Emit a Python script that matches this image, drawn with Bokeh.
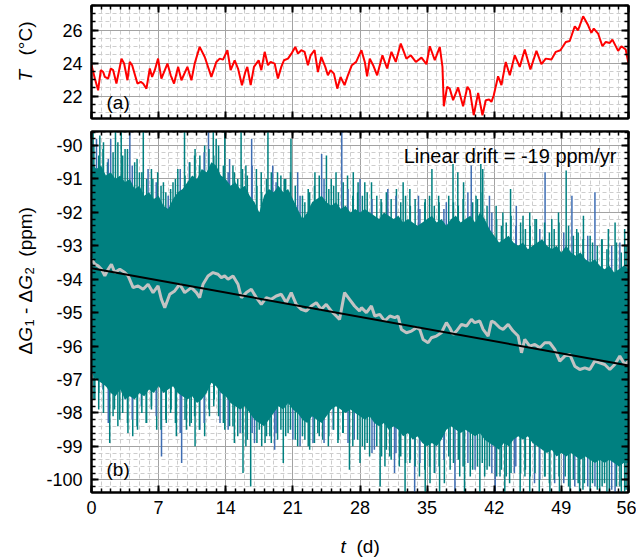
import numpy as np
from math import pi
from bokeh.plotting import figure
from bokeh.models import Range1d, FixedTicker, LinearAxis, Label
from bokeh.layouts import column, row
from bokeh.embed import file_html
from bokeh.resources import INLINE

FONT = "Liberation Sans"

# ---------------- data ----------------
day_ticks = [0, 7, 14, 21, 28, 35, 42, 49, 56]
day_minor = list(range(0, 57))
temp_ticks = [22, 24, 26]
temp_minor = [20.5 + 0.5 * i for i in range(15)]
g_ticks = [-100, -99, -98, -97, -96, -95, -94, -93, -92, -91, -90]
g_minor = [round(-100.4 + 0.2 * i, 1) for i in range(55)]

# (a) temperature
temp_t = [0.00, 0.35, 0.69, 0.97, 1.22, 1.39, 1.74, 2.01, 2.26, 2.60, 3.13, 3.40, 3.75, 3.99, 4.24,
          4.79, 5.14, 5.38, 5.73, 6.08, 6.32, 6.60, 6.94, 7.29, 7.92, 8.26, 8.61, 9.03, 9.38, 10.00,
          10.42, 10.76, 11.28, 11.81, 12.50, 13.02, 13.37, 13.72, 14.17, 14.51, 14.93, 15.28, 15.69,
          16.04, 16.25, 16.60, 16.94, 17.43, 17.71, 18.06, 18.40, 18.68, 19.10, 19.44, 19.79, 20.07,
          20.49, 20.90, 21.25, 21.53, 21.88, 22.22, 22.57, 22.85, 23.26, 23.61, 23.96, 24.38, 24.65,
          24.93, 25.28, 25.63, 25.97, 26.39, 26.74, 27.15, 27.60, 28.15, 28.50, 28.74, 29.02, 29.37,
          29.79, 30.34, 30.83, 31.28, 31.73, 32.25, 32.84, 33.30, 33.82, 34.06, 34.41, 34.93, 35.28,
          35.80, 36.32, 36.60, 36.74, 37.08, 37.36, 37.71, 38.23, 38.75, 39.20, 39.45, 39.86, 40.32,
          40.77, 41.12, 41.46, 41.71, 41.95, 42.40, 42.75, 43.20, 43.62, 44.14, 44.66, 45.18, 45.77,
          46.40, 46.92, 47.37, 47.96, 48.42, 48.90, 49.46, 49.87, 50.40, 50.74, 51.27, 51.79, 52.13,
          52.38, 52.83, 53.28, 53.63, 54.05, 54.32, 54.92, 55.26, 55.71, 56.00]
temp_v = [23.88, 23.07, 22.36, 23.58, 23.47, 23.17, 23.07, 23.68, 23.58, 22.77, 24.28, 23.98, 22.97,
          24.08, 23.88, 22.77, 22.87, 22.77, 22.46, 23.68, 23.17, 23.58, 24.28, 23.07, 23.98, 23.27,
          22.77, 23.78, 22.97, 23.78, 22.97, 23.98, 24.99, 24.38, 23.17, 24.08, 24.28, 24.22, 24.79,
          23.58, 24.18, 23.68, 22.67, 23.47, 23.78, 22.67, 23.78, 24.18, 23.58, 24.69, 23.88, 24.08,
          23.98, 23.07, 23.78, 24.18, 24.28, 24.63, 24.99, 24.59, 24.79, 24.69, 23.88, 24.48, 24.79,
          23.47, 24.38, 23.78, 23.27, 23.58, 23.37, 22.46, 23.17, 22.67, 23.27, 23.88, 24.08, 24.79,
          24.08, 23.21, 24.28, 23.88, 23.27, 24.48, 23.68, 24.69, 24.08, 25.19, 24.28, 24.48, 24.08,
          24.18, 24.34, 23.94, 25.03, 24.18, 24.99, 23.78, 21.39, 22.57, 22.46, 21.76, 22.53, 21.39,
          22.57, 22.36, 20.85, 22.20, 20.85, 21.76, 21.80, 21.66, 22.06, 23.21, 22.67, 24.08, 23.27,
          24.48, 23.78, 24.83, 23.62, 24.75, 23.94, 24.28, 24.22, 24.69, 24.79, 25.29, 25.35, 26.24,
          26.00, 26.85, 26.30, 25.84, 26.10, 25.80, 25.03, 25.29, 25.23, 25.43, 24.75, 25.03, 24.83,
          23.98]

# (b) raw difference: dense band envelope (every half day) and single excursions
band_t = [0.5 * i for i in range(113)]
band_top = [-90.5, -90.7, -90.6, -90.9, -90.8, -91.0, -90.9, -91.1, -91.0, -91.3, -91.2, -91.5,
            -91.4, -91.6, -91.5, -91.8, -91.9, -91.6, -91.4, -91.3, -91.1, -90.9, -91.0, -90.7,
            -90.8, -90.5, -90.6, -90.9, -91.0, -91.2, -91.1, -91.3, -91.2, -91.5, -91.7, -92.0,
            -91.5, -91.3, -91.4, -91.2, -91.4, -91.3, -91.6, -91.9, -92.2, -92.0, -91.7, -91.6,
            -91.5, -91.7, -91.8, -91.7, -91.9, -91.8, -92.0, -91.9, -92.0, -91.9, -92.0, -92.1,
            -92.2, -92.0, -92.1, -92.2, -92.1, -92.3, -92.2, -92.3, -92.4, -92.3, -92.2, -92.1,
            -92.3, -92.2, -92.4, -92.2, -92.1, -92.3, -92.2, -92.1, -92.3, -92.0, -92.2, -92.5,
            -92.7, -92.9, -92.8, -92.7, -92.9, -93.0, -92.9, -93.1, -93.0, -92.9, -92.8, -93.0,
            -93.1, -93.0, -93.2, -93.0, -93.2, -93.3, -93.2, -93.4, -93.5, -93.4, -93.6, -93.7,
            -93.6, -93.8, -93.7, -93.6, -93.7]
band_bot = [-96.8, -97.0, -97.1, -97.2, -97.4, -97.5, -97.3, -97.6, -97.5, -97.6, -97.4, -97.5,
            -97.3, -97.4, -97.2, -97.4, -97.3, -97.2, -97.4, -97.5, -97.6, -97.5, -97.7, -97.6,
            -97.4, -97.1, -97.2, -97.4, -97.5, -97.7, -97.8, -97.9, -97.8, -98.0, -98.2, -98.3,
            -98.4, -98.2, -98.0, -97.8, -97.9, -97.7, -97.9, -98.0, -98.2, -98.3, -98.1, -98.2,
            -98.3, -98.1, -97.9, -97.8, -97.9, -98.0, -97.9, -98.0, -98.1, -98.2, -98.1, -98.3,
            -98.4, -98.3, -98.5, -98.4, -98.5, -98.7, -98.6, -98.8, -98.7, -98.9, -99.0, -98.9,
            -99.0, -98.8, -98.5, -98.4, -98.5, -98.6, -98.5, -98.6, -98.7, -98.6, -98.8, -98.9,
            -99.0, -99.1, -98.9, -99.0, -98.8, -98.7, -98.8, -98.7, -98.9, -99.0, -99.1, -99.2,
            -99.1, -99.3, -99.2, -99.3, -99.2, -99.3, -99.4, -99.3, -99.4, -99.5, -99.4, -99.5,
            -99.4, -99.5, -99.6, -99.5, -99.5]

# tall single excursions above / below the band
up_t = [0.17, 0.52, 0.87, 1.2, 1.67, 2.0, 2.5, 3.1, 3.5, 4.0, 4.5, 5.0, 5.4, 5.9, 6.4, 6.9, 7.5,
        8.0, 8.5, 9.0, 9.7, 10.2, 10.8, 11.3, 11.8, 12.2, 12.7, 13.0, 13.9, 14.4, 14.9, 15.6, 16.1,
        16.7, 17.2, 17.7, 18.4, 18.9, 19.4, 20.1, 20.8, 21.5, 22.0, 22.6, 23.3, 24.0, 24.5, 25.0,
        25.5, 26.1, 26.7, 27.3, 27.8, 28.0, 28.5, 29.2, 30.2, 30.9, 31.8, 32.5, 33.2, 34.1, 34.8,
        35.5, 36.2, 37.0, 37.7, 38.2, 38.8, 39.6, 40.1, 40.6, 40.8, 41.5, 42.2, 42.9, 43.7, 44.3,
        45.0, 45.7, 46.4, 47.3, 48.0, 48.7, 49.5, 50.1, 50.6, 51.3, 52.0, 52.5, 53.2, 53.9, 54.6,
        55.1, 55.6]
up_v = [-89.4, -89.8, -89.7, -90.1, -90.5, -89.8, -89.5, -89.4, -90.1, -89.4, -90.5, -90.8, -89.4,
        -90.7, -91.0, -90.8, -91.1, -91.5, -91.1, -90.7, -89.4, -90.5, -90.1, -90.3, -90.0, -89.4,
        -89.4, -89.8, -89.4, -90.4, -90.8, -89.4, -90.6, -89.8, -90.7, -90.8, -89.4, -90.6, -90.8,
        -91.0, -89.8, -90.8, -91.5, -91.3, -90.8, -90.25, -90.3, -91.0, -90.8, -89.4, -90.9, -90.8,
        -91.1, -91.0, -91.1, -91.1, -91.6, -91.3, -91.3, -91.1, -91.3, -91.5, -91.6, -90.7, -91.5,
        -91.7, -90.55, -90.8, -91.1, -90.6, -91.5, -90.55, -90.7, -91.5, -91.8, -92.0, -91.3, -91.8,
        -92.1, -92.0, -92.2, -90.8, -92.2, -92.0, -90.75, -91.5, -92.5, -92.1, -92.7, -91.4, -92.8,
        -92.5, -92.3, -92.9, -92.5]

down_t = [0.35, 0.76, 1.2, 1.9, 2.4, 2.95, 3.5, 3.8, 4.3, 4.8, 5.2, 5.7, 6.25, 6.8, 7.3, 7.8, 8.3,
          8.85, 9.4, 9.9, 10.4, 10.8, 11.3, 11.8, 12.3, 12.8, 13.4, 13.9, 14.4, 14.9, 15.5, 15.8,
          16.1, 16.6, 17.0, 17.5, 18.1, 18.6, 19.1, 19.4, 20.0, 20.5, 21.0, 21.5, 22.0, 22.6, 23.1,
          23.6, 24.1, 24.7, 25.2, 25.7, 26.2, 26.9, 27.4, 28.0, 28.5, 29.0, 29.5, 30.1, 30.6, 31.1,
          31.6, 32.1, 32.7, 33.2, 33.7, 34.2, 34.8, 35.3, 35.8, 36.3, 36.8, 37.4, 37.9, 38.4, 38.9,
          39.5, 40.0, 40.5, 41.0, 41.5, 42.1, 42.6, 43.1, 43.6, 44.1, 44.7, 45.2, 45.7, 46.2, 46.7,
          47.3, 47.8, 48.3, 48.8, 49.4, 49.9, 50.4, 50.9, 51.4, 52.0, 52.5, 53.0, 53.5, 54.0, 54.6,
          55.1, 55.6]
down_v = [-97.6, -97.4, -97.3, -98.9, -97.9, -98.2, -97.6, -98.6, -98.7, -98.5, -97.8, -98.3, -97.8,
          -98.5, -99.3, -98.3, -97.9, -98.7, -99.5, -98.5, -98.3, -99.0, -98.5, -98.7, -98.1, -97.6,
          -98.3, -98.5, -98.4, -98.9, -98.6, -99.8, -99.0, -100.2, -98.9, -98.5, -98.9, -98.7, -99.1,
          -98.8, -99.5, -98.6, -98.8, -99.0, -98.7, -99.0, -98.9, -98.6, -98.8, -99.0, -98.5, -98.9,
          -98.6, -99.7, -98.8, -99.5, -99.1, -99.3, -99.1, -100.2, -99.6, -99.3, -99.8, -99.6,
          -100.5, -99.5, -100.5, -99.9, -100.5, -100.1, -99.8, -100.5, -100.1, -99.7, -100.5, -99.9,
          -100.5, -99.9, -99.7, -100.5, -99.9, -99.6, -100.5, -99.9, -100.5, -100.1, -99.8, -100.5,
          -99.9, -100.5, -100.1, -100.5, -99.9, -100.5, -100.1, -100.5, -99.9, -100.5, -100.2,
          -100.5, -100.1, -100.5, -100.2, -100.5, -100.1, -100.5, -100.5, -100.2, -100.5]

# medium excursions between them (every half day, at t = 0.25, 0.75, ...)
mid_t = [0.25 + 0.5 * i for i in range(112)]
mid_up_v = [-90.0, -90.3, -89.9, -90.4, -90.2, -89.9, -90.3, -90.1,
            -90.6, -90.4, -90.8, -91.0, -90.7, -91.1, -91.2, -91.4,
            -91.3, -91.0, -90.7, -90.9, -90.5, -90.3, -90.6, -90.2,
            -90.1, -90.3, -90.0, -90.6, -90.8, -90.6, -91.0, -90.7,
            -90.9, -90.6, -91.2, -91.4, -91.0, -90.8, -91.1, -90.9,
            -91.0, -90.8, -91.2, -91.5, -91.7, -91.4, -91.2, -90.9,
            -91.0, -91.3, -91.2, -91.4, -91.1, -91.3, -91.5, -91.4,
            -91.5, -91.4, -91.6, -91.5, -91.7, -91.4, -91.6, -91.5,
            -91.7, -91.5, -91.8, -91.6, -91.9, -91.7, -91.5, -91.8,
            -91.7, -91.9, -91.5, -91.7, -91.8, -91.6, -91.4, -91.7,
            -91.6, -91.4, -91.8, -92.0, -92.2, -92.4, -92.3, -92.1,
            -92.4, -92.3, -92.5, -92.4, -92.2, -92.5, -92.3, -92.6,
            -92.5, -92.3, -92.6, -92.4, -92.7, -92.6, -92.8, -92.7,
            -92.9, -93.0, -92.8, -93.1, -93.0, -92.9, -93.2, -93.0]
mid_down_v = [-97.6, -97.9, -98.0, -98.3, -98.1, -98.4, -98.0, -98.3,
              -98.2, -98.4, -98.0, -98.3, -97.9, -98.1, -98.5, -98.2,
              -98.0, -98.3, -98.6, -98.2, -98.4, -98.1, -98.5, -98.3,
              -97.9, -97.8, -98.1, -98.3, -98.5, -98.4, -98.7, -98.6,
              -98.8, -98.6, -98.9, -99.0, -98.7, -98.9, -98.6, -98.5,
              -98.7, -98.5, -98.8, -99.0, -98.8, -99.1, -98.9, -98.7,
              -98.9, -98.7, -98.5, -98.8, -98.6, -98.9, -99.0, -98.8,
              -99.0, -98.9, -99.2, -99.0, -99.3, -99.1, -99.4, -99.2,
              -99.3, -99.5, -99.4, -99.6, -99.5, -99.7, -99.6, -99.8,
              -99.6, -99.4, -99.3, -99.5, -99.4, -99.6, -99.5, -99.7,
              -99.6, -99.5, -99.7, -99.8, -99.9, -99.7, -99.9, -99.8,
              -99.6, -99.8, -99.7, -99.9, -99.8, -100.0, -99.9, -100.1,
              -100.0, -99.9, -100.1, -100.2, -100.0, -100.1, -100.3, -100.2,
              -100.1, -100.3, -100.2, -100.4, -100.3, -100.2, -100.4, -100.3]

# (b) smoothed difference (grey)
avg_t = [0.00, 0.35, 0.69, 1.04, 1.39, 1.74, 2.08, 2.43, 2.95, 3.47, 3.82, 4.34, 4.86, 5.38, 5.90,
         6.42, 6.94, 7.29, 7.64, 8.16, 8.68, 9.20, 9.72, 10.42, 10.94, 11.28, 11.63, 12.15, 12.67,
         13.19, 13.54, 13.89, 14.24, 14.76, 15.28, 15.63, 16.15, 16.67, 17.19, 17.71, 18.23, 18.75,
         19.27, 19.79, 20.31, 20.83, 21.35, 21.88, 22.40, 22.92, 23.44, 23.96, 24.48, 25.00, 25.52,
         25.87, 26.39, 26.91, 27.43, 27.95, 28.15, 28.67, 29.19, 29.54, 30.06, 30.58, 31.11, 31.63,
         31.97, 32.32, 32.84, 33.37, 33.89, 34.23, 34.58, 35.10, 35.45, 35.97, 36.49, 37.01, 37.36,
         37.71, 38.06, 38.58, 39.10, 39.62, 39.97, 40.49, 40.84, 41.36, 41.71, 42.05, 42.58, 42.92,
         43.45, 43.97, 44.49, 44.84, 45.18, 45.70, 46.23, 46.75, 47.27, 47.79, 48.31, 48.83, 49.35,
         49.87, 50.40, 50.92, 51.44, 51.96, 52.48, 53.00, 53.52, 54.05, 54.57, 55.09, 55.61, 56.00]
avg_v = [-93.40, -93.55, -93.60, -93.70, -93.90, -93.70, -93.55, -93.80, -93.70, -93.80, -93.90,
         -94.25, -94.20, -94.30, -94.15, -94.40, -94.20, -94.60, -94.85, -94.45, -94.35, -94.15,
         -94.40, -94.25, -94.40, -94.55, -94.15, -93.90, -93.80, -93.85, -93.95, -93.90, -94.00,
         -93.90, -94.15, -94.55, -94.40, -94.30, -94.55, -94.75, -94.55, -94.60, -94.50, -94.45,
         -94.70, -94.40, -94.75, -94.90, -94.95, -94.80, -94.70, -94.90, -94.75, -94.95, -95.10,
         -95.20, -94.40, -94.60, -94.80, -94.95, -94.85, -95.00, -94.80, -95.10, -95.05, -95.25,
         -95.10, -95.15, -95.10, -95.50, -95.60, -95.55, -95.45, -95.50, -95.80, -95.90, -95.75,
         -95.70, -95.60, -95.30, -95.45, -95.65, -95.55, -95.35, -95.40, -95.20, -95.30, -95.25,
         -95.50, -95.70, -95.25, -95.30, -95.45, -95.50, -95.35, -95.55, -95.70, -96.20, -95.80,
         -96.00, -95.95, -96.05, -95.90, -95.90, -96.10, -96.45, -96.30, -96.25, -96.60, -96.70,
         -96.65, -96.70, -96.45, -96.50, -96.55, -96.70, -96.55, -96.30, -96.55, -96.45]

# linear fit (-19 ppm/yr)
fit_t = [0, 56]
fit_v = [-93.67, -96.58]

# ---------------- styling helpers ----------------
TEAL = "#008080"
BLUE = "#3e6db3"
MAJ_GRID = "#a3a3a3"
MIN_GRID = "#cdcdcd"


def style_axis(ax, ticks, minor, show_labels, standoff=9):
    ax.ticker = FixedTicker(ticks=ticks, minor_ticks=minor)
    ax.axis_line_color = "black"
    ax.axis_line_width = 2
    ax.major_tick_in = 7
    ax.major_tick_out = 0
    ax.minor_tick_in = 4
    ax.minor_tick_out = 0
    ax.major_tick_line_width = 2
    ax.minor_tick_line_width = 1.5
    ax.major_tick_line_color = "black"
    ax.minor_tick_line_color = "black"
    if show_labels:
        ax.major_label_text_font = FONT
        ax.major_label_text_font_size = "18px"
        ax.major_label_text_color = "black"
        ax.major_label_standoff = standoff
        ax.major_label_overrides = {t: str(t) for t in ticks}
    else:
        ax.major_label_text_font_size = "1px"
        ax.major_label_text_color = None
        ax.major_label_text_alpha = 0
        ax.major_label_standoff = 0


def frame_setup(p, xt, xm, yt, ym, show_x):
    style_axis(p.xaxis[0], xt, xm, show_x, standoff=8)
    style_axis(p.yaxis[0], yt, ym, True)
    ax_r = LinearAxis()
    style_axis(ax_r, yt, ym, False)
    p.add_layout(ax_r, "right")
    ax_t = LinearAxis()
    style_axis(ax_t, xt, xm, False)
    p.add_layout(ax_t, "above")
    p.xgrid.ticker = FixedTicker(ticks=xt, minor_ticks=xm)
    p.ygrid.ticker = FixedTicker(ticks=yt, minor_ticks=ym)
    for g in (p.xgrid[0], p.ygrid[0]):
        g.grid_line_color = MAJ_GRID
        g.grid_line_width = 1
        g.minor_grid_line_color = MIN_GRID
        g.minor_grid_line_width = 1
        g.minor_grid_line_dash = "4 3"
    p.outline_line_color = "black"
    p.outline_line_width = 2
    p.background_fill_color = "white"
    p.border_fill_color = "white"


def lab(p, text, x, y, size="19px", italic=False, angle=0.0, align="left"):
    p.add_layout(Label(x=x, y=y, x_units="screen", y_units="screen", text=text,
                       text_font=FONT, text_font_size=size,
                       text_font_style="italic" if italic else "normal",
                       text_color="black", angle=angle, text_align=align,
                       text_baseline="alphabetic"))


def blank(w, h):
    q = figure(width=w, height=h, x_range=Range1d(0, 1), y_range=Range1d(0, 1), title=None,
               output_backend="svg", toolbar_location=None,
               x_axis_location=None, y_axis_location=None,
               min_border_left=0, min_border_right=0, min_border_top=0, min_border_bottom=0)
    q.grid.visible = False
    q.outline_line_color = None
    q.background_fill_color = "white"
    q.border_fill_color = "white"
    return q


# ---------------- (a) ----------------
top = figure(width=595, height=125, x_range=Range1d(0, 56), y_range=Range1d(20.65, 27.5),
             title=None, output_backend="svg", toolbar_location=None,
             min_border_left=50, min_border_right=8, min_border_top=5, min_border_bottom=7)
frame_setup(top, day_ticks, day_minor, temp_ticks, temp_minor, False)
top.line(temp_t, temp_v, line_color="#ff0000", line_width=2)
lab(top, "(a)", 15, 16)

top_lab = blank(41, 125)
lab(top_lab, "T", 25, 37, italic=True, angle=pi / 2)
lab(top_lab, "(°C)", 25, 63, angle=pi / 2)

# ---------------- (b) ----------------
bot = figure(width=595, height=399, x_range=Range1d(0, 56), y_range=Range1d(-100.38, -89.58),
             title=None, output_backend="svg", toolbar_location=None,
             min_border_left=50, min_border_right=8, min_border_top=6, min_border_bottom=32)
frame_setup(bot, day_ticks, day_minor, g_ticks, g_minor, True)

up_col = [BLUE if i % 4 == 1 else TEAL for i in range(len(up_t))]
down_col = [BLUE if i % 4 == 2 else TEAL for i in range(len(down_t))]
mid_col = [BLUE if i % 5 == 3 else TEAL for i in range(len(mid_t))]
bot.segment(x0=up_t, y0=[-95.0] * len(up_t), x1=up_t, y1=up_v, line_color=up_col, line_width=1.5)
bot.segment(x0=down_t, y0=[-95.0] * len(down_t), x1=down_t, y1=down_v, line_color=down_col,
            line_width=1.5)
bot.segment(x0=mid_t, y0=[-95.0] * len(mid_t), x1=mid_t, y1=mid_up_v, line_color=mid_col,
            line_width=1.5)
bot.segment(x0=mid_t, y0=[-95.0] * len(mid_t), x1=mid_t, y1=mid_down_v, line_color=mid_col,
            line_width=1.5)
bot.varea(x=band_t, y1=band_bot, y2=band_top, fill_color=TEAL)
bot.line(avg_t, avg_v, line_color="#c3c3c3", line_width=3)
bot.line(fit_t, fit_v, line_color="black", line_width=2)

lab(bot, "Linear drift = -19 ppm/yr", 525, 337, size="20px", align="right")
lab(bot, "(b)", 15, 23)

bot_lab = blank(41, 399)
# y title: ΔG1 - ΔG2 (ppm), pieces placed bottom to top
lab(bot_lab, "Δ", 25, 138, angle=pi / 2)
lab(bot_lab, "G", 25, 150.7, italic=True, angle=pi / 2)
lab(bot_lab, "1", 29, 166, size="13px", angle=pi / 2)
lab(bot_lab, "-", 25, 178.5, angle=pi / 2)
lab(bot_lab, "Δ", 25, 190.1, angle=pi / 2)
lab(bot_lab, "G", 25, 202.8, italic=True, angle=pi / 2)
lab(bot_lab, "2", 29, 218, size="13px", angle=pi / 2)
lab(bot_lab, "(ppm)", 25, 235.8, angle=pi / 2)

# x title: t (d)
x_lab = blank(636, 36)
lab(x_lab, "t", 340, 14, italic=True)
lab(x_lab, "(d)", 356, 14)

layout = column(row(top_lab, top), row(bot_lab, bot), x_lab)
open("out.html", "w").write(file_html(layout, INLINE))
